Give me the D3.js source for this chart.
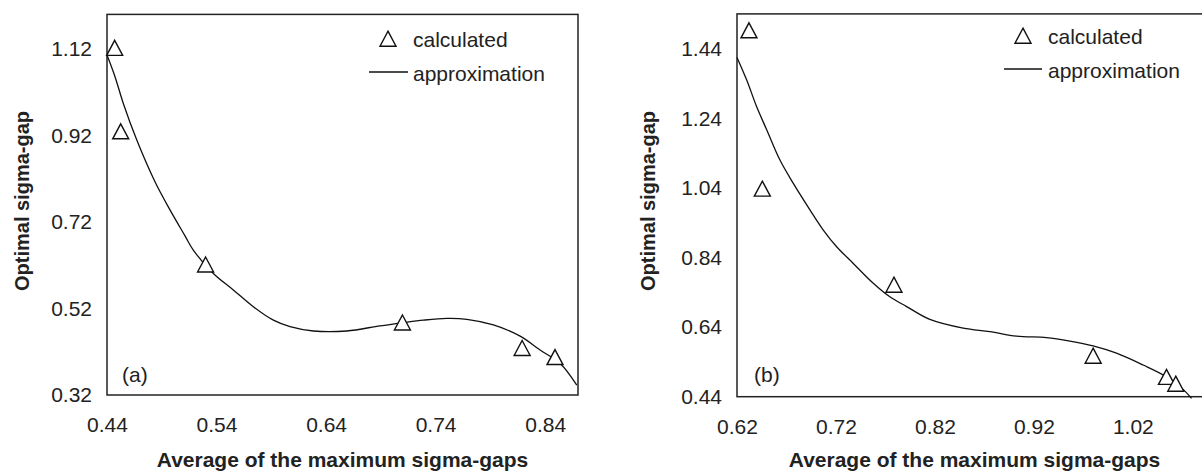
<!DOCTYPE html>
<html>
<head>
<meta charset="utf-8">
<script src="https://cdn.jsdelivr.net/npm/d3@7"></script>
<style>
  body { margin: 0; background: #fff; }
  svg { display: block; }
  text { font-family: "Liberation Sans", Arial, Helvetica, sans-serif; fill: #222; }
</style>
</head>
<body>
<svg id="chart" width="1202" height="471"></svg>
<script>
// panel (a)
var calcA_x = [0.447, 0.4525, 0.530, 0.7097, 0.819, 0.849];
var calcA_y = [1.122, 0.929, 0.621, 0.487, 0.428, 0.407];
var approxA_x = [0.44, 0.4473, 0.4549, 0.4671, 0.4838, 0.4975, 0.5112, 0.5188, 0.5371, 0.5553, 0.5736, 0.5919,
                 0.6071, 0.6284, 0.6589, 0.6893, 0.7097, 0.7289, 0.7502, 0.7685, 0.7928, 0.8172, 0.8354, 0.8537, 0.8689];
var approxA_y = [1.106, 1.056, 0.994, 0.910, 0.813, 0.748, 0.688, 0.655, 0.601, 0.563, 0.524, 0.493,
                 0.478, 0.468, 0.468, 0.480, 0.487, 0.493, 0.497, 0.495, 0.482, 0.456, 0.424, 0.393, 0.343];
var xTicksA = [0.44, 0.54, 0.64, 0.74, 0.84];
var yTicksA = [0.32, 0.52, 0.72, 0.92, 1.12];

// panel (b)
var calcB_x = [0.6321, 0.6456, 0.7786, 0.9799, 1.054, 1.0634];
var calcB_y = [1.492, 1.037, 0.761, 0.557, 0.496, 0.4765];
var approxB_x = [0.62, 0.6298, 0.6399, 0.65, 0.6634, 0.6769, 0.6937, 0.7072, 0.7207, 0.7375, 0.7577, 0.7745,
                 0.7914, 0.8149, 0.8486, 0.8756, 0.9025, 0.9328, 0.9564, 0.9799, 1.0035, 1.0304, 1.054, 1.0708, 1.0793];
var approxB_y = [1.415, 1.350, 1.273, 1.207, 1.120, 1.053, 0.977, 0.919, 0.871, 0.823, 0.766, 0.727,
                 0.699, 0.662, 0.637, 0.627, 0.614, 0.610, 0.600, 0.586, 0.565, 0.531, 0.497, 0.461, 0.435];
var xTicksB = [0.62, 0.72, 0.82, 0.92, 1.02];
var yTicksB = [0.44, 0.64, 0.84, 1.04, 1.24, 1.44];

var xTitle = "Average of the maximum sigma-gaps",
    yTitle = "Optimal sigma-gap",
    legendLabels = ["calculated", "approximation"];

var svg = d3.select("#chart");
var triangle = "M0,-7.8L8,7.2L-8,7.2Z";

function drawPanel(p) {
    var xScale = d3.scaleLinear().domain(p.xDomain).range([p.left, p.right]);
    var yScale = d3.scaleLinear().domain(p.yDomain).range([p.bottom, p.top]);

    var g = svg.append("g");

    var xAxis = d3.axisBottom(xScale).tickValues(p.xTicks).tickSize(0).tickPadding(22)
        .tickFormat(d3.format(".2f"));
    var yAxis = d3.axisLeft(yScale).tickValues(p.yTicks).tickSize(0).tickPadding(15)
        .tickFormat(d3.format(".2f"));

    g.append("g")
        .attr("transform", "translate(0," + p.bottom + ")")
        .call(xAxis)
        .call(function(s) { s.select(".domain").remove(); });
    g.append("g")
        .attr("transform", "translate(" + p.left + ",0)")
        .call(yAxis)
        .call(function(s) { s.select(".domain").remove(); });
    g.selectAll(".tick text")
        .style("font-size", "21px")
        .style("fill", "#222");

    // frame
    g.append("rect")
        .attr("x", p.left)
        .attr("y", p.top)
        .attr("width", p.right - p.left)
        .attr("height", p.bottom - p.top)
        .style("fill", "none")
        .style("stroke", "#222")
        .style("stroke-width", 1.5);

    var line = d3.line()
        .x(function(d) { return xScale(d[0]); })
        .y(function(d) { return yScale(d[1]); })
        .curve(d3.curveCatmullRom);

    g.append("path")
        .datum(d3.zip(p.approxX, p.approxY))
        .attr("d", line)
        .style("fill", "none")
        .style("stroke", "#111")
        .style("stroke-width", 1.3);

    g.selectAll(".dot")
        .data(d3.zip(p.calcX, p.calcY))
        .enter().append("path")
        .attr("class", "dot")
        .attr("d", triangle)
        .attr("transform", function(d) { return "translate(" + xScale(d[0]) + "," + yScale(d[1]) + ")"; })
        .style("fill", "#fff")
        .style("stroke", "#111")
        .style("stroke-width", 1.4);

    // titles
    g.append("text")
        .attr("x", (p.left + p.right) / 2)
        .attr("y", 467)
        .style("text-anchor", "middle")
        .style("font-size", "21px")
        .style("font-weight", "bold")
        .text(xTitle);
    g.append("text")
        .attr("transform", "translate(" + p.yTitleX + "," + 201 + ") rotate(-90)")
        .style("text-anchor", "middle")
        .style("font-size", "20px")
        .style("font-weight", "bold")
        .text(yTitle);

    g.append("text")
        .attr("x", p.tagX)
        .attr("y", 382)
        .style("font-size", "21px")
        .text(p.tag);

    // legend
    g.append("path")
        .attr("d", triangle)
        .attr("transform", "translate(" + p.legX + "," + p.legY + ")")
        .style("fill", "#fff")
        .style("stroke", "#111")
        .style("stroke-width", 1.4);
    g.append("line")
        .attr("x1", p.legLineX1).attr("x2", p.legLineX2)
        .attr("y1", p.legY + 33).attr("y2", p.legY + 33)
        .style("stroke", "#111")
        .style("stroke-width", 1.3);
    g.selectAll(".legend")
        .data(legendLabels)
        .enter().append("text")
        .attr("class", "legend")
        .attr("x", p.legTextX)
        .attr("y", function(d, i) { return p.legY + 8 + i * 34; })
        .style("font-size", "21px")
        .text(function(d) { return d; });
}

drawPanel({
    left: 107, right: 578, top: 14.4, bottom: 395,
    xDomain: [0.44, 0.87], yDomain: [0.32, 1.2],
    xTicks: xTicksA, yTicks: yTicksA,
    calcX: calcA_x, calcY: calcA_y, approxX: approxA_x, approxY: approxA_y,
    yTitleX: 28.5, tag: "(a)", tagX: 122,
    legX: 388, legY: 39, legLineX1: 369, legLineX2: 408, legTextX: 413
});

drawPanel({
    left: 737, right: 1212, top: 13.9, bottom: 396.7,
    xDomain: [0.62, 1.1], yDomain: [0.44, 1.54],
    xTicks: xTicksB, yTicks: yTicksB,
    calcX: calcB_x, calcY: calcB_y, approxX: approxB_x, approxY: approxB_y,
    yTitleX: 655, tag: "(b)", tagX: 754,
    legX: 1023, legY: 36, legLineX1: 1004, legLineX2: 1042, legTextX: 1048
});
</script>
</body>
</html>
